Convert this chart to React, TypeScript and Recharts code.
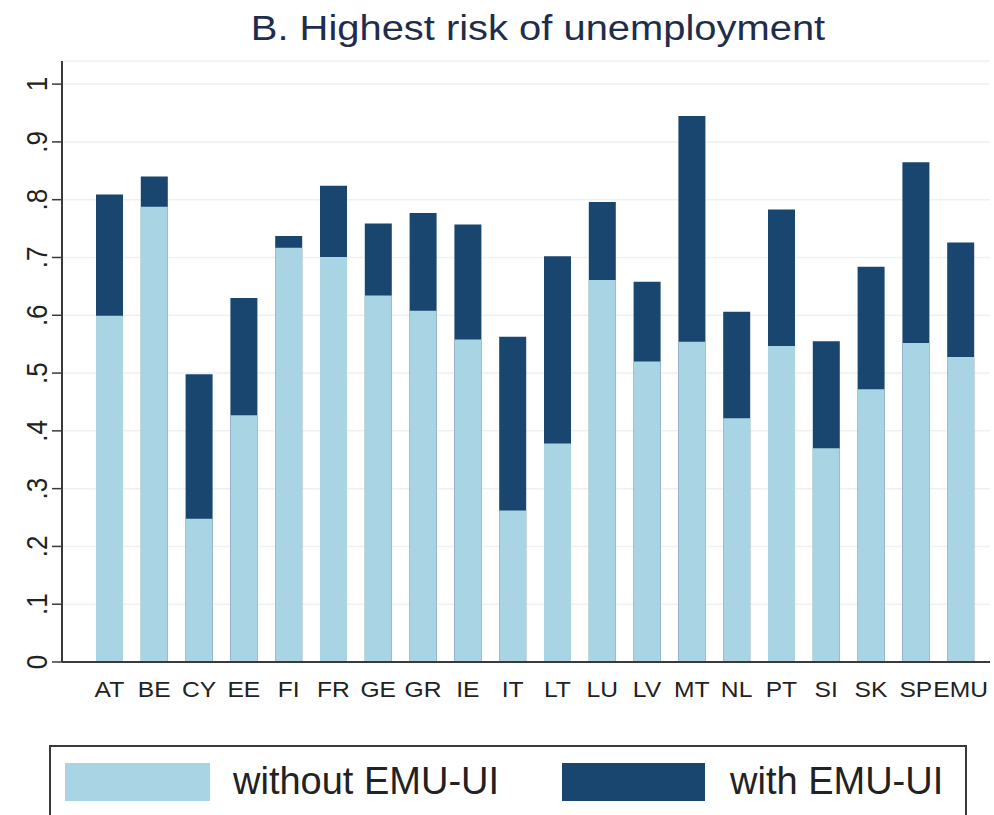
import { BarChart, Bar, XAxis, YAxis, CartesianGrid } from 'recharts'

const countries = ['AT', 'BE', 'CY', 'EE', 'FI', 'FR', 'GE', 'GR', 'IE', 'IT', 'LT', 'LU', 'LV', 'MT', 'NL', 'PT', 'SI', 'SK', 'SP', 'EMU']
const withoutUi = [0.599, 0.788, 0.248, 0.427, 0.717, 0.701, 0.634, 0.608, 0.558, 0.262, 0.378, 0.661, 0.52, 0.554, 0.422, 0.547, 0.37, 0.472, 0.552, 0.528]
const withUi = [0.809, 0.84, 0.498, 0.63, 0.737, 0.824, 0.759, 0.777, 0.757, 0.563, 0.702, 0.796, 0.658, 0.945, 0.606, 0.783, 0.555, 0.684, 0.865, 0.726]

const yTicks = [0, 0.1, 0.2, 0.3, 0.4, 0.5, 0.6, 0.7, 0.8, 0.9, 1]
const yTickLabels = ['0', '.1', '.2', '.3', '.4', '.5', '.6', '.7', '.8', '.9', '1']

const LIGHT = '#a8d4e3'
const DARK = '#19466f'
const AXIS = '#3a3a3a'
const FONT = '"Liberation Sans", Arial, sans-serif'

const chartData = countries.map((c, i) => ({
  country: c,
  withoutUi: withoutUi[i],
  withUi: withUi[i],
}))

// y labels are turned on their side, as in the Stata original
function YTick({ y, index }: { y?: number; index?: number }) {
  const label = yTickLabels[index ?? 0]
  return (
    <text
      transform={`translate(47 ${y}) scale(1.15 1) rotate(-90)`}
      textAnchor="middle"
      style={{ fontSize: 26, fontFamily: FONT }}
      fill="#222"
    >
      {label}
    </text>
  )
}

function XTick({ x, y, payload }: { x?: number; y?: number; payload?: { value: string } }) {
  return (
    <text
      transform={`translate(${x} ${(y ?? 0) + 27}) scale(1.12 1)`}
      textAnchor="middle"
      style={{ fontSize: 22, fontFamily: FONT }}
      fill="#222"
    >
      {payload?.value}
    </text>
  )
}

export default function App() {
  return (
    <div style={{ position: 'absolute', left: 0, top: 0, width: 994, height: 815, background: '#fff', overflow: 'hidden' }}>
      <div
        style={{
          position: 'absolute',
          left: 0,
          width: 1076,
          top: 8,
          textAlign: 'center',
          fontFamily: FONT,
          fontSize: 35,
          color: '#1f2d4d',
          transform: 'scaleX(1.14)',
          transformOrigin: '538px 0',
          whiteSpace: 'nowrap',
        }}
      >
        B. Highest risk of unemployment
      </div>

      <div style={{ position: 'absolute', left: 0, top: 0 }}>
        <BarChart
          width={994}
          height={720}
          data={chartData}
          margin={{ top: 61, right: 4, bottom: 18, left: 0 }}
          barSize={27}
        >
          <CartesianGrid horizontal vertical={false} stroke="#edf1f4" strokeWidth={1.5} />
          <XAxis
            xAxisId="front"
            dataKey="country"
            height={40}
            padding={{ left: 25, right: 7 }}
            axisLine={{ stroke: AXIS, strokeWidth: 2 }}
            tickLine={false}
            interval={0}
            tick={<XTick />}
          />
          <XAxis xAxisId="back" dataKey="country" hide height={0} padding={{ left: 25, right: 7 }} />
          <YAxis
            width={62}
            domain={[0, 1.04]}
            ticks={yTicks}
            interval={0}
            tickSize={10}
            axisLine={{ stroke: AXIS, strokeWidth: 2 }}
            tickLine={{ stroke: AXIS, strokeWidth: 1.5 }}
            tick={<YTick />}
          />
          <Bar xAxisId="back" dataKey="withUi" fill={DARK} isAnimationActive={false} />
          <Bar xAxisId="front" dataKey="withoutUi" fill={LIGHT} isAnimationActive={false} />
        </BarChart>
      </div>

      <div
        style={{
          position: 'absolute',
          left: 49,
          top: 745,
          width: 914,
          height: 100,
          border: `2px solid ${AXIS}`,
          fontFamily: FONT,
          fontSize: 38,
          color: '#222',
        }}
      >
        <div style={{ position: 'absolute', left: 14, top: 16, width: 145, height: 38, background: LIGHT }} />
        <div style={{ position: 'absolute', left: 182, top: 12, lineHeight: '44px' }}>without EMU-UI</div>
        <div style={{ position: 'absolute', left: 511, top: 16, width: 143, height: 38, background: DARK }} />
        <div style={{ position: 'absolute', left: 679, top: 12, lineHeight: '44px' }}>with EMU-UI</div>
      </div>
    </div>
  )
}
